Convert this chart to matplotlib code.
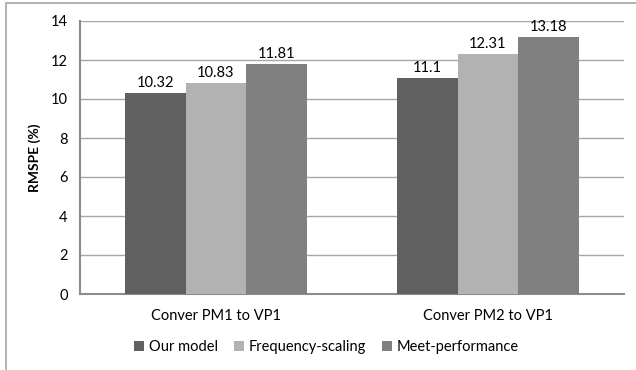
import matplotlib
matplotlib.use("Agg")
import matplotlib.pyplot as plt
import numpy as np

categories = ["Conver PM1 to VP1", "Conver PM2 to VP1"]
series_names = ["Our model", "Frequency-scaling", "Meet-performance"]
our_model = [10.32, 11.1]
freq_scaling = [10.83, 12.31]
meet_perf = [11.81, 13.18]
value_labels = [["10.32", "11.1"], ["10.83", "12.31"], ["11.81", "13.18"]]
colors = ["#606060", "#b2b2b2", "#808080"]
yticks = [0, 2, 4, 6, 8, 10, 12, 14]

plt.rcParams['font.family'] = ['Lato', 'DejaVu Sans']

fig = plt.figure(figsize=(6.36, 3.70), dpi=100)
ax = fig.add_axes([80/636, 1 - 294/370, 544/636, 273/370])

x = np.arange(len(categories))
w = 0.222
all_series = [our_model, freq_scaling, meet_perf]
for i, (vals, name, col) in enumerate(zip(all_series, series_names, colors)):
    bars = ax.bar(x + (i - 1) * w, vals, width=w, color=col, label=name, zorder=3)
    for b, txt in zip(bars, value_labels[i]):
        ax.text(b.get_x() + b.get_width() / 2, b.get_height() + 0.15, txt,
                ha="center", va="bottom", fontsize=10.5, color="#000000")

ax.set_xlim(-0.5, 1.5)
ax.set_ylim(0, 14)
ax.set_yticks(yticks)
ax.set_xticks(x)
ax.set_xticklabels(categories, fontsize=10.5)
ax.tick_params(axis="y", length=0, labelsize=10.5, pad=9)
ax.tick_params(axis="x", length=0, pad=11)
ax.grid(axis="y", color="#a6a6a6", linewidth=1, zorder=0)
for s in ["top", "right"]:
    ax.spines[s].set_visible(False)
for s in ["left", "bottom"]:
    ax.spines[s].set_color("#8c8c8c")
    ax.spines[s].set_linewidth(1.5)
ax.set_ylabel("RMSPE (%)", fontsize=10, fontweight="bold", labelpad=7)

leg = fig.legend(loc="center", bbox_to_anchor=(0.513, 1 - 347/370), ncol=3,
                 frameon=False, fontsize=10.5, handlelength=0.7, handleheight=0.7,
                 handletextpad=0.3, columnspacing=1.1)

# outer chart frame
frame = plt.Rectangle((6/636, -0.01), 1.2, 1 - 3/370 + 0.01, transform=fig.transFigure,
                      fill=False, edgecolor="#a6a6a6", linewidth=1.2)
fig.add_artist(frame)

fig.savefig("out.png", dpi=100)
